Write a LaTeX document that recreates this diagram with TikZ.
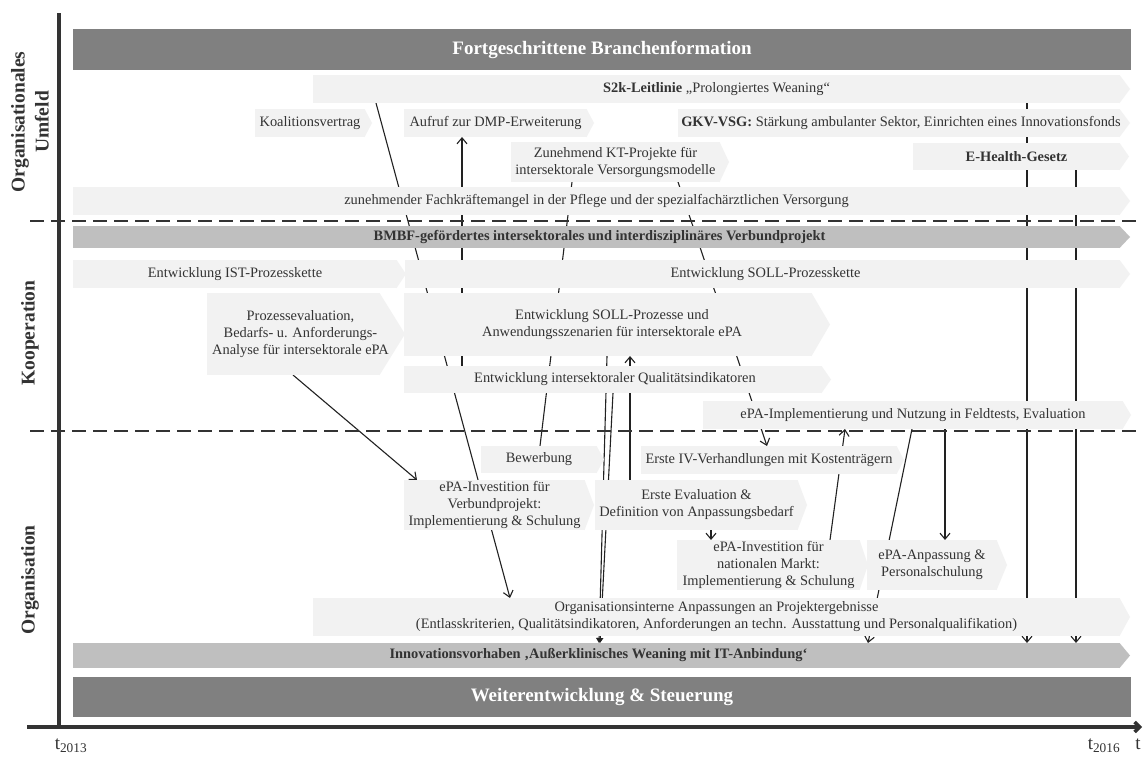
\documentclass[tikz,border=0pt]{standalone}
\usepackage{fontspec}
\setmainfont{Liberation Serif}
\usetikzlibrary{calc,arrows.meta}

\definecolor{darkbar}{HTML}{808080}
\definecolor{midbar}{HTML}{BFBFBF}
\definecolor{lightbox}{HTML}{F2F2F2}
\definecolor{ink}{HTML}{333333}
\definecolor{axisgray}{HTML}{333333}
\definecolor{wire}{HTML}{222222}

\pgfdeclarelayer{back}
\pgfsetlayers{back,main}

% filled box with a pointed right end: name, colour, x, y (top left), width, height, tip length
\newcommand\chevbox[7]{%
  \node[shapebox, fill=#2, minimum width=#5pt, minimum height=#6pt] (#1) at (#3,#4) {};
  \fill[#2] ([xshift=-0.4pt]#1.north east) -- ([xshift=#7pt]#1.east) -- ([xshift=-0.4pt]#1.south east) -- cycle;
}

\begin{document}
\begin{tikzpicture}[x=1pt,y=-1pt,
  shapebox/.style={anchor=north west, inner sep=0pt, outer sep=0pt, draw=none},
  txt/.style={inner sep=0pt, align=center, text=ink, font=\fontsize{14.4}{17}\selectfont},
  btxt/.style={txt, font=\fontsize{14.4}{17}\selectfont\bfseries},
  bigtxt/.style={inner sep=0pt, text=white, font=\fontsize{19}{22}\selectfont\bfseries},
  sect/.style={rotate=90, align=center, text=ink, inner sep=0pt, font=\fontsize{19.5}{24}\selectfont\bfseries},
  conn/.style={draw=wire, line width=1.1pt},
  arr/.style={conn, -{Straight Barb[length=6pt,width=10pt]}},
  smallarr/.style={conn, -{Triangle[length=5pt,width=6pt]}},
  sepline/.style={draw=axisgray, line width=1.4pt, dash pattern=on 14pt off 7pt},
  axisline/.style={draw=axisgray, line width=3.5pt},
  timelabel/.style={inner sep=0pt, text=ink, font=\fontsize{19}{22}\selectfont},
]
\useasboundingbox (0,0) rectangle (1144,758);
\begin{pgfonlayer}{back}
\fill[white] (0,0) rectangle (1144,758);
\end{pgfonlayer}

% ---------- axes and section separators
\draw[axisline] (59,13) -- (59,727);
\draw[axisline, -{Straight Barb[length=5pt,width=10pt]}] (27,727) -- (1142,727);
\draw[sepline] (30,221) -- (1140,221);
\draw[sepline] (30,431) -- (1140,431);

\node[sect] (umfeld) at (30,122) {Organisationales\\Umfeld};
\node[sect] (koop) at (30,333) {Kooperation};
\node[sect] (orga) at (30,580) {Organisation};

\node[timelabel] (tstart) at (71,746) {t\textsubscript{2013}};
\node[timelabel] (tend) at (1104,746) {t\textsubscript{2016}};
\node[timelabel] (taxis) at (1138,744) {t};

% ---------- organisational environment
\node[shapebox, fill=darkbar, minimum width=1058pt, minimum height=41pt] (fbf) at (73,29) {};
\node[bigtxt] (fbf-t) at (fbf.center) {Fortgeschrittene Branchenformation};

\chevbox{s2k}{lightbox}{313}{75}{807}{28}{10}
\node[txt] (s2k-t) at (s2k.center) {\textbf{S2k-Leitlinie} „Prolongiertes Weaning“};

\chevbox{koal}{lightbox}{255}{109}{110}{28}{7}
\node[txt] (koal-t) at (koal.center) {Koalitionsvertrag};

\chevbox{aufruf}{lightbox}{404}{109}{183}{28}{7}
\node[txt] (aufruf-t) at (aufruf.center) {Aufruf zur DMP-Erweiterung};

\chevbox{gkv}{lightbox}{678}{109}{442}{28}{10}
\node[txt] (gkv-t) at ([xshift=2pt]gkv.center) {\textbf{GKV-VSG:} Stärkung ambulanter Sektor, Einrichten eines Innovationsfonds};

\chevbox{kt}{lightbox}{511}{142}{209}{40}{9}
\node[txt] (kt-t) at (kt.center) {Zunehmend KT-Projekte für\\intersektorale Versorgungsmodelle};

\chevbox{ehealth}{lightbox}{913}{143}{207}{27}{9}
\node[btxt] (ehealth-t) at (ehealth.center) {E-Health-Gesetz};

\chevbox{fach}{lightbox}{73}{187}{1047}{28}{10}
\node[txt] (fach-t) at (fach.center) {zunehmender Fachkräftemangel in der Pflege und der spezialfachärztlichen Versorgung};

% ---------- cooperation
\chevbox{bmbf}{midbar}{73}{226}{1047}{22}{10}
\node[btxt] (bmbf-t) at ([xshift=3pt]bmbf.center) {BMBF-gefördertes intersektorales und interdisziplinäres Verbundprojekt};

\chevbox{ist}{lightbox}{73}{260}{324}{28}{9}
\node[txt] (ist-t) at (ist.center) {Entwicklung IST-Prozesskette};

\chevbox{sollk}{lightbox}{405}{260}{715}{28}{10}
\node[txt] (sollk-t) at ([xshift=3pt]sollk.center) {Entwicklung SOLL-Prozesskette};

\chevbox{proz}{lightbox}{207}{293}{173}{82}{25}
\node[txt] (proz-t) at ([xshift=7pt]proz.center) {Prozessevaluation,\\Bedarfs- u. Anforderungs-\\Analyse für intersektorale ePA};

\chevbox{sollp}{lightbox}{404}{293}{408}{63}{18}
\node[txt] (sollp-t) at ([xshift=4pt]sollp.center) {Entwicklung SOLL-Prozesse und\\Anwendungsszenarien für intersektorale ePA};

\chevbox{quali}{lightbox}{404}{366}{418}{27}{9}
\node[txt] (quali-t) at ([xshift=2pt]quali.center) {Entwicklung intersektoraler Qualitätsindikatoren};

\chevbox{impl}{lightbox}{703}{401}{420}{28}{8}
\node[txt] (impl-t) at (impl.center) {ePA-Implementierung und Nutzung in Feldtests, Evaluation};

% ---------- organisation
\chevbox{bew}{lightbox}{481}{446}{116}{27}{7}
\node[txt] (bew-t) at (bew.center) {Bewerbung};

\chevbox{iv}{lightbox}{641}{446}{256}{28}{7}
\node[txt] (iv-t) at (iv.center) {Erste IV-Verhandlungen mit Kostenträgern};

\chevbox{invv}{lightbox}{404}{480}{181}{50}{9}
\node[txt] (invv-t) at (invv.center) {ePA-Investition für\\Verbundprojekt:\\Implementierung \& Schulung};

\chevbox{eval}{lightbox}{595}{480}{203}{50}{9}
\node[txt] (eval-t) at (eval.center) {Erste Evaluation \&\\Definition von Anpassungsbedarf};

\chevbox{invn}{lightbox}{677}{540}{183}{50}{8}
\node[txt] (invn-t) at (invn.center) {ePA-Investition für\\nationalen Markt:\\Implementierung \& Schulung};

\chevbox{anp}{lightbox}{867}{540}{130}{50}{10}
\node[txt] (anp-t) at (anp.center) {ePA-Anpassung \&\\Personalschulung};

\chevbox{orgi}{lightbox}{313}{598}{807}{38}{10}
\node[txt] (orgi-t) at (orgi.center) {Organisationsinterne Anpassungen an Projektergebnisse\\(Entlasskriterien, Qualitätsindikatoren, Anforderungen an techn. Ausstattung und Personalqualifikation)};

\chevbox{innov}{midbar}{73}{643}{1047}{25}{10}
\node[btxt] (innov-t) at ([xshift=2pt]innov.center) {Innovationsvorhaben ‚Außerklinisches Weaning mit IT-Anbindung‘};

\node[shapebox, fill=darkbar, minimum width=1058pt, minimum height=40pt] (weiter) at (73,677) {};
\node[bigtxt] (weiter-t) at (weiter.center) {Weiterentwicklung \& Steuerung};

% ---------- influences, drawn behind the boxes
\begin{pgfonlayer}{back}
\draw[arr] ([xshift=63pt]s2k.south west) -- ([xshift=197pt]orgi.north west);
\draw[arr] ([xshift=58pt]quali.north west) -- ([xshift=58pt]aufruf.south west);
\draw[conn] ([xshift=59pt]bew.north west) -- ([xshift=61pt]kt.south west);
\draw[arr] ([xshift=167pt]kt.south west) -- ([xshift=126pt]iv.north west);
\draw[arr] ([xshift=153pt]invn.north west) -- ([xshift=142pt]impl.south west);
\draw[arr] ([xshift=209pt]impl.south west) -- ([xshift=795pt]innov.north west);
\draw[arr] ([xshift=242pt]impl.south west) -- ([xshift=78pt]anp.north west);
\draw[arr] ([xshift=714pt]s2k.south west) -- ([xshift=954pt]innov.north west);
\draw[arr] ([xshift=163pt]ehealth.south west) -- ([xshift=1003pt]innov.north west);
\draw[arr] ([xshift=86pt]proz.south west) -- ([xshift=13pt]invv.north west);
\draw[arr] ([xshift=116pt]eval.south west) -- ([xshift=34pt]invn.north west);
\draw[arr] ([xshift=35pt]eval.north west) -- ([xshift=226pt]sollp.south west);
\draw[smallarr] ([xshift=203pt]sollp.south west) -- ([xshift=526pt]innov.north west);
\draw[smallarr] ([xshift=209pt]quali.south west) -- ([xshift=527pt]innov.north west);
\end{pgfonlayer}
\end{tikzpicture}
\end{document}
